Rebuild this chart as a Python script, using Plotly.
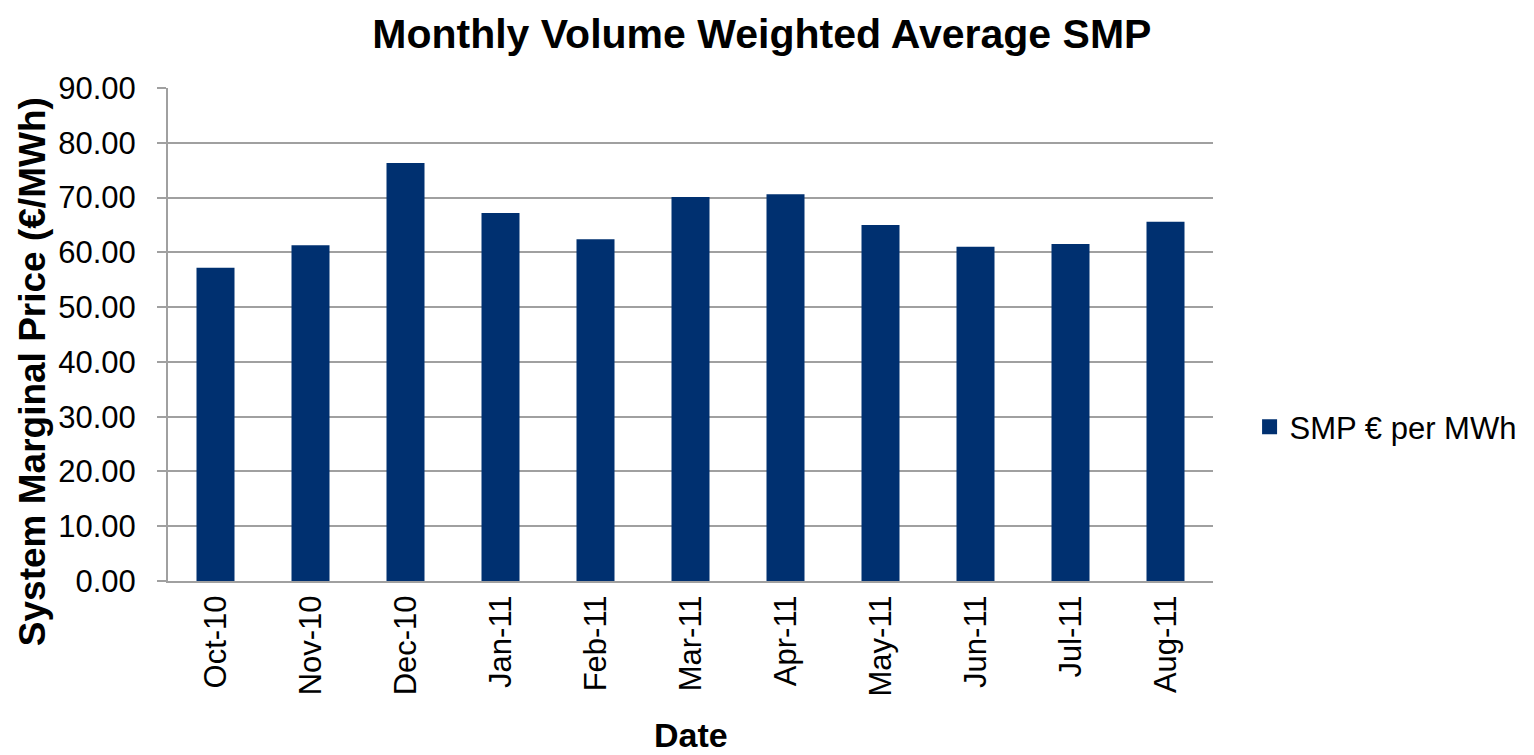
import plotly.graph_objects as go

# Monthly volume weighted average SMP (EUR/MWh)
months = ['Oct-10', 'Nov-10', 'Dec-10', 'Jan-11', 'Feb-11', 'Mar-11',
          'Apr-11', 'May-11', 'Jun-11', 'Jul-11', 'Aug-11']
smp = [57.2, 61.3, 76.3, 67.2, 62.4, 70.1, 70.6, 65.0, 61.0, 61.5, 65.6]

FONT = 'Liberation Sans, Arial, sans-serif'
GRID = '#a0a0a0'
BAR = '#003070'

fig = go.Figure()

fig.add_trace(go.Bar(x=months, y=smp, name='SMP € per MWh', showlegend=False,
                     marker=dict(color=BAR, line=dict(width=0))))
# legend entry with a bigger square like the original
fig.add_trace(go.Scatter(x=[None], y=[None], mode='markers', name='SMP € per MWh',
                         marker=dict(symbol='square', size=15, color=BAR)))

# page has an 8px body margin, so the figure is sized to fit inside the window
fig.update_layout(
    width=1526, height=747,
    margin=dict(l=160, r=321, t=80, b=174),
    paper_bgcolor='white', plot_bgcolor='white',
    font=dict(family=FONT, color='black', size=31),
    bargap=0.6,
    showlegend=True,
    legend=dict(x=1.035, y=0.312, xanchor='left', yanchor='middle',
                font=dict(size=31), bgcolor='rgba(0,0,0,0)',
                itemwidth=30),
    title=dict(text='<b>Monthly Volume Weighted Average SMP</b>',
               x=0.494, xanchor='center', y=0.966, yanchor='middle',
               font=dict(size=41)),
)

fig.update_xaxes(type='category', range=[-0.5, len(months) - 0.5],
                 tickangle=-90, tickfont=dict(size=31),
                 showline=True, linecolor=GRID, linewidth=2,
                 ticks='', showgrid=False, ticklabelstandoff=0)

fig.update_yaxes(range=[0, 90], dtick=10, tickformat='.2f',
                 tickfont=dict(size=31),
                 showgrid=True, gridcolor=GRID, gridwidth=2,
                 showline=True, linecolor=GRID, linewidth=2,
                 ticks='outside', ticklen=9, tickcolor=GRID, tickwidth=2,
                 ticklabelstandoff=15, zeroline=False)

# axis titles as annotations so they sit where the original has them
fig.add_annotation(text='<b>Date</b>', xref='paper', yref='paper',
                   x=0.5, y=-0.312, xanchor='center', yanchor='middle',
                   showarrow=False, font=dict(size=34))
fig.add_annotation(text='<b>System Marginal Price (€/MWh)</b>', xref='paper', yref='paper',
                   x=-0.129, y=0.424, xanchor='center', yanchor='middle', textangle=-90,
                   showarrow=False, font=dict(size=37))

fig.write_html("out.html")
